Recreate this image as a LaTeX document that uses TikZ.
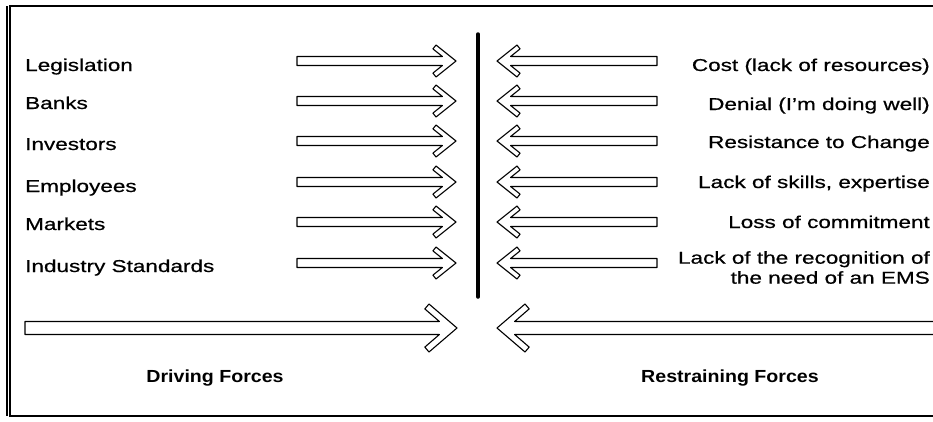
\documentclass[tikz,border=0pt]{standalone}
\usepackage{fontspec}
\setmainfont{Liberation Sans}[FakeStretch=1.31, FakeBold=0.6]
\newfontfamily\titlefont{Liberation Sans Bold}[FakeStretch=1.12]
\begin{document}
\begin{tikzpicture}[x=1pt,y=-1pt,
  lbl/.style={font=\fontsize{17.2}{20}\selectfont, inner sep=0pt},
  ttl/.style={font=\titlefont\fontsize{17.5}{20}\selectfont, inner sep=0pt},
  arrowline/.style={draw=black, line width=1.1pt, fill=white, line join=round},
  frameline/.style={draw=black, line width=1.6pt}]
\useasboundingbox (0,0) rectangle (933,421);
% frame
\draw[frameline] (933,6) -- (10,6) -- (10,416) -- (933,416);
\draw[line width=1.2pt] (7,6) -- (7,416);
% small arrow: right-pointing, local tip at origin
\newcommand{\smallright}[3]{% tail x, tip x, y
  \draw[arrowline, shift={(#2,#3)}] (#1-#2,-4.5) -- (-13.6,-4.5) -- (-23.1,-12.1) -- (-20,-16) -- (0,0) -- (-20,16) -- (-23.1,12.1) -- (-13.6,4.5) -- (#1-#2,4.5) -- cycle;}
\newcommand{\smallleft}[3]{% tail x, tip x, y
  \draw[arrowline, shift={(#2,#3)}] (#1-#2,-4.5) -- (13.6,-4.5) -- (23.1,-12.1) -- (20,-16) -- (0,0) -- (20,16) -- (23.1,12.1) -- (13.6,4.5) -- (#1-#2,4.5) -- cycle;}
\foreach \yy in {61,101,141,182,222,263}{
  \smallright{297}{456}{\yy}
  \smallleft{657}{497}{\yy}
}
% big arrows
\draw[arrowline, shift={(457,328)}] (25-457,-6.5) -- (-17.6,-6.5) -- (-32.2,-19.1) -- (-28,-24) -- (0,0) -- (-28,24) -- (-32.2,19.1) -- (-17.6,6.5) -- (25-457,6.5) -- cycle;
\draw[arrowline, shift={(497,328)}] (445,-6.5) -- (17.6,-6.5) -- (32.2,-19.1) -- (28,-24) -- (0,0) -- (28,24) -- (32.2,19.1) -- (17.6,6.5) -- (445,6.5);
% central bar
\coordinate (bartop) at (478,34);
\coordinate (barbot) at (478,297);
\draw[line width=3.5pt, line cap=round] (bartop) -- (barbot);
% left labels
\node[lbl, anchor=base west] (d1) at (25,71) {Legislation};
\node[lbl, anchor=base west] (d2) at (25,109) {Banks};
\node[lbl, anchor=base west] (d3) at (25,150) {Investors};
\node[lbl, anchor=base west] (d4) at (25,192) {Employees};
\node[lbl, anchor=base west] (d5) at (25,230) {Markets};
\node[lbl, anchor=base west] (d6) at (25,272) {Industry Standards};
% right labels
\node[lbl, anchor=base east] (r1) at (930,71) {Cost (lack of resources)};
\node[lbl, anchor=base east] (r2) at (930,110) {Denial (I'm doing well)};
\node[lbl, anchor=base east] (r3) at (930,148) {Resistance to Change};
\node[lbl, anchor=base east] (r4) at (930,188) {Lack of skills, expertise};
\node[lbl, anchor=base east] (r5) at (930,228) {Loss of commitment};
\node[lbl, anchor=north east, align=right] (r6) at (930,251) {Lack of the recognition of\\the need of an EMS};
% titles
\node[ttl, anchor=base] (df) at (215,382) {Driving Forces};
\node[ttl, anchor=base] (rf) at (730,382) {Restraining Forces};
\end{tikzpicture}
\end{document}
